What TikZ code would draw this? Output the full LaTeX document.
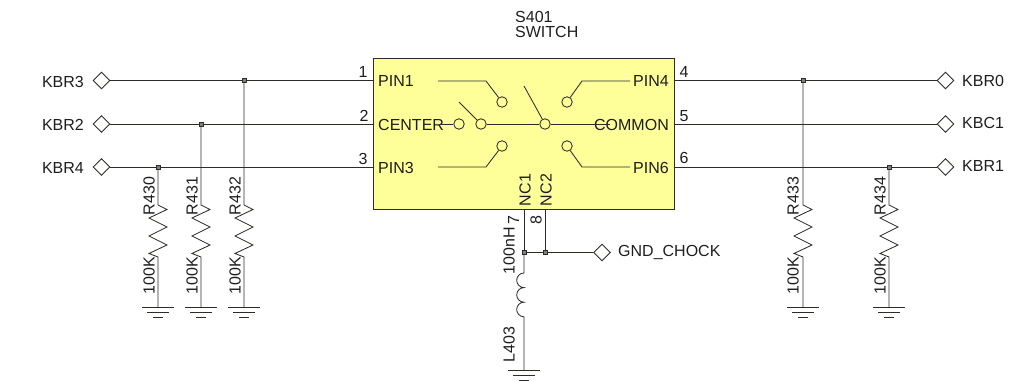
\documentclass[tikz,border=0pt]{standalone}
\usepackage{fontspec}
\usetikzlibrary{shapes.geometric}
\setmainfont{Liberation Sans}
\definecolor{wire}{RGB}{45,45,40}
\definecolor{body}{RGB}{255,255,153}
\definecolor{ink}{RGB}{30,30,30}
\tikzset{
  wirel/.style={draw=wire,line width=0.85pt},
  lbl/.style={inner sep=0pt,text=ink,font=\fontsize{16}{17}\selectfont,text depth=0pt},
  lblw/.style={lbl,anchor=west},
  lble/.style={lbl,anchor=east},
  vlbl/.style={lbl,rotate=90,anchor=center},
  port/.style={draw=wire,fill=white,line width=0.85pt,diamond,aspect=1,inner sep=0pt,minimum size=17pt},
  contact/.style={draw=wire,fill=none,line width=0.85pt,circle,inner sep=0pt,minimum size=10.5pt},
  dotj/.style={draw=wire,fill=gray,line width=0.8pt,rectangle,inner sep=0pt,minimum size=4pt},
}
\newcommand{\resistorpath}[3]{% #1 x, #2 top node, #3 bottom coordinate
  \draw[wirel] (#2) -- (#1,205) -- (#1+9,209.5) -- (#1-9,218) -- (#1+9,227) -- (#1-9,236) -- (#1+9,245) -- (#1-9,253.5) -- (#1,257) -- (#3);
}
\newcommand{\groundsym}[1]{%
  \draw[wirel] ([xshift=-16pt]#1) -- ([xshift=16pt]#1);
  \draw[wirel] ([xshift=-11pt,yshift=-5pt]#1) -- ([xshift=11pt,yshift=-5pt]#1);
  \draw[wirel] ([xshift=-5pt,yshift=-10pt]#1) -- ([xshift=5pt,yshift=-10pt]#1);
}
\begin{document}
\begin{tikzpicture}[x=1pt,y=-1pt]
\useasboundingbox (0,0) rectangle (1012,385);
% switch body
\node[draw=wire,fill=body,line width=1pt,rectangle,inner sep=0pt,minimum width=300.5pt,minimum height=150pt] (sw) at (523.75,134) {};
\node[lblw] at (515,17) {S401};
\node[lblw] at (515,32) {SWITCH};
% pin coordinates
\coordinate (p1) at (373.5,80.5);
\coordinate (p2) at (373.5,124);
\coordinate (p3) at (373.5,167);
\coordinate (p4) at (674,80.5);
\coordinate (p5) at (674,124);
\coordinate (p6) at (674,167);
\coordinate (p7) at (524,209);
\coordinate (p8) at (545,209);
% ports
\node[port] (kbr3) at (101.5,80.5) {};
\node[port] (kbr2) at (101.5,124) {};
\node[port] (kbr4) at (101.5,167) {};
\node[port] (kbr0) at (945.5,80.5) {};
\node[port] (kbc1) at (945.5,124) {};
\node[port] (kbr1) at (945.5,167) {};
\node[port] (gndc) at (602,252.5) {};
\node[lble] at (84,82) {KBR3};
\node[lble] at (84,125) {KBR2};
\node[lble] at (84,168) {KBR4};
\node[lblw] at (962,80.5) {KBR0};
\node[lblw] at (962,122.5) {KBC1};
\node[lblw] at (962,166) {KBR1};
\node[lblw] at (618,251) {GND\_CHOCK};
% wires
\draw[wirel] (kbr3) -- (p1);
\draw[wirel] (kbr2) -- (p2);
\draw[wirel] (kbr4) -- (p3);
\draw[wirel] (kbr0) -- (p4);
\draw[wirel] (kbc1) -- (p5);
\draw[wirel] (kbr1) -- (p6);
% pin numbers
\node[lbl] at (363,72) {1};
\node[lbl] at (364,116) {2};
\node[lbl] at (363,159) {3};
\node[lbl] at (684,72) {4};
\node[lbl] at (684,116) {5};
\node[lbl] at (684,158) {6};
% pin names
\node[lblw] at (378,81) {PIN1};
\node[lblw] at (378,125) {CENTER};
\node[lblw] at (378,168) {PIN3};
\node[lble] at (669,81) {PIN4};
\node[lble] at (669,125) {COMMON};
\node[lble] at (669,168) {PIN6};
\node[vlbl] at (525,190) {NC1};
\node[vlbl] at (546,190) {NC2};
% contacts
\node[contact] (c1) at (502,102) {};
\node[contact] (c4) at (567,102) {};
\node[contact] (c3) at (502,146) {};
\node[contact] (c6) at (567,146) {};
\node[contact] (cc) at (459,124) {};
\node[contact] (cl) at (481,124) {};
\node[contact] (cm) at (545,124) {};
\coordinate (a1) at (438,81);
\coordinate (a4) at (630,81);
\coordinate (a3) at (438,167);
\coordinate (a6) at (630,167);
\coordinate (ac) at (440,124);
\coordinate (ar) at (610,124);
\coordinate (al) at (459,102);
\coordinate (am) at (524,86);
\draw[wirel] (a1) -- (486,81) -- (c1);
\draw[wirel] (a4) -- (582,81) -- (c4);
\draw[wirel] (a3) -- (486,167) -- (c3);
\draw[wirel] (a6) -- (582,167) -- (c6);
\draw[wirel] (ac) -- (cc);
\draw[wirel] (al) -- (cl);
\draw[wirel] (am) -- (cm);
\draw[wirel] (cl) -- (cm);
\draw[wirel] (cm) -- (ar);
% resistors
\node[dotj] (j430) at (158,167) {};
\node[dotj] (j431) at (201,124) {};
\node[dotj] (j432) at (244,80.5) {};
\node[dotj] (j433) at (803,80.5) {};
\node[dotj] (j434) at (889,167) {};
\coordinate (g430) at (158,307);
\coordinate (g431) at (201,307);
\coordinate (g432) at (244,307);
\coordinate (g433) at (803,307);
\coordinate (g434) at (889,307);
\resistorpath{158}{j430}{g430}
\resistorpath{201}{j431}{g431}
\resistorpath{244}{j432}{g432}
\resistorpath{803}{j433}{g433}
\resistorpath{889}{j434}{g434}
\groundsym{g430}\groundsym{g431}\groundsym{g432}\groundsym{g433}\groundsym{g434}
\node[vlbl] at (149,196) {R430};
\node[vlbl] at (192,196) {R431};
\node[vlbl] at (235,196) {R432};
\node[vlbl] at (793,196) {R433};
\node[vlbl] at (880,196) {R434};
\node[vlbl] at (149,276) {100K};
\node[vlbl] at (192,276) {100K};
\node[vlbl] at (235,276) {100K};
\node[vlbl] at (793,276) {100K};
\node[vlbl] at (880,276) {100K};
% bottom net
\node[dotj] (j7) at (524,252.5) {};
\node[dotj] (j8) at (545,252.5) {};
\coordinate (gl) at (524,370);
\draw[wirel] (p7) -- (j7);
\draw[wirel] (p8) -- (j8);
\draw[wirel] (j7) -- (j8);
\draw[wirel] (j8) -- (gndc);
\draw[wirel] (j7) -- (524,273)
  arc[start angle=90,end angle=270,radius=7.3pt]
  arc[start angle=90,end angle=270,radius=7.3pt]
  arc[start angle=90,end angle=270,radius=7.3pt] -- (gl);
\groundsym{gl}
\node[vlbl] at (513.5,220.5) {7};
\node[vlbl] at (536,220.5) {8};
\node[vlbl] at (509,250.5) {100nH};
\node[vlbl] at (509,344.5) {L403};
\end{tikzpicture}
\end{document}
